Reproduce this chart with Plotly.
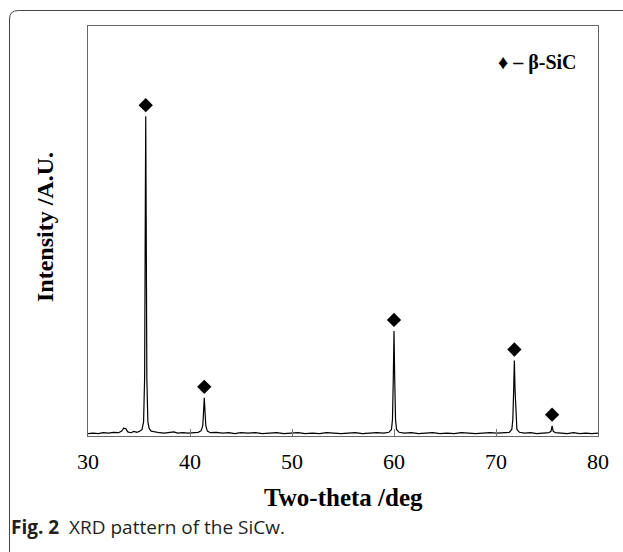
import plotly.graph_objects as go

# XRD trace of the SiC whiskers: 2-theta (deg) vs. intensity (arbitrary units)
two_theta = [
    30.0, 30.5, 31.0, 31.5, 32.0, 32.5, 33.0, 33.3, 33.5, 33.7, 33.9, 34.2, 34.5, 34.8,
    35.1, 35.3, 35.45, 35.55, 35.62, 35.66, 35.7, 35.77, 35.87, 36.0, 36.2, 36.5,
    37.0, 37.5, 38.0, 38.4, 38.8, 39.3, 39.8, 40.3, 40.8, 41.1, 41.25, 41.33, 41.4,
    41.47, 41.55, 41.7, 42.0, 42.6, 43.2, 43.8, 44.4, 45.0, 45.7, 46.4, 47.1, 47.8,
    48.5, 49.2, 49.9, 50.6, 51.3, 52.0, 52.7, 53.4, 54.1, 54.8, 55.5, 56.2, 56.9,
    57.6, 58.3, 59.0, 59.5, 59.75, 59.85, 59.93, 60.0, 60.07, 60.15, 60.25, 60.5,
    61.0, 61.7, 62.4, 63.1, 63.8, 64.5, 65.2, 65.9, 66.6, 67.3, 68.0, 68.7, 69.4,
    70.1, 70.8, 71.3, 71.55, 71.65, 71.73, 71.8, 71.87, 71.95, 72.05, 72.3, 72.8,
    73.4, 74.0, 74.6, 75.2, 75.4, 75.5, 75.6, 75.8, 76.4, 77.0, 77.6, 78.2, 78.8,
    79.4, 80.0,
]
intensity = [
    0.6, 0.7, 0.6, 0.8, 0.7, 0.9, 0.8, 1.2, 1.9, 1.8, 1.0, 0.8, 1.1, 0.9,
    1.2, 1.6, 3.5, 14.0, 55.0, 78.0, 55.0, 14.0, 3.5, 1.8, 1.2, 1.0,
    0.8, 0.7, 0.8, 1.0, 0.7, 0.8, 0.7, 0.8, 0.9, 1.3, 2.5, 6.0, 9.3,
    6.0, 2.5, 1.2, 0.8, 0.9, 0.7, 0.8, 0.6, 0.8, 0.7, 0.8, 0.6, 0.7,
    0.8, 0.6, 0.7, 0.8, 0.6, 0.7, 0.6, 0.8, 0.7, 0.6, 0.7, 0.8, 0.6,
    0.7, 0.8, 0.7, 0.9, 1.6, 4.0, 14.0, 25.6, 14.0, 4.0, 1.6, 0.9,
    0.7, 0.8, 0.6, 0.7, 0.8, 0.6, 0.7, 0.6, 0.8, 0.7, 0.6, 0.7, 0.8,
    0.7, 0.8, 0.9, 1.6, 4.0, 11.0, 18.4, 11.0, 4.0, 1.6, 0.9, 0.7,
    0.8, 0.6, 0.7, 0.8, 1.2, 2.5, 1.2, 0.8, 0.7, 0.6, 0.8, 0.6, 0.7,
    0.6, 0.7,
]

# beta-SiC reflections that are flagged with a diamond
peak_theta = [35.66, 41.4, 60.0, 71.8, 75.5]
peak_height = [78.0, 9.3, 25.6, 18.4, 2.5]

x_ticks = [30, 40, 50, 60, 70, 80]
x_title = "Two-theta /deg"
y_title = "Intensity /A.U."
phase_label = "♦ – β-SiC"
caption_bold = "Fig. 2"
caption_text = "XRD pattern of the SiCw."

W, H = 623, 552
ML, MR, MT, MB = 88, 25, 26, 116
PW, PH = W - ML - MR, H - MT - MB


def px(x):
    return (x - ML) / PW


def py(y):
    return (MT + PH - y) / PH


MARK_GAP = 2.7  # diamond sits just above each peak apex

fig = go.Figure()
fig.add_trace(go.Scatter(
    x=two_theta, y=intensity, mode="lines",
    line=dict(color="black", width=1.2), hoverinfo="skip", showlegend=False,
))
fig.add_trace(go.Scatter(
    x=peak_theta, y=[h + MARK_GAP for h in peak_height], mode="markers",
    marker=dict(symbol="diamond", size=11, color="black"),
    showlegend=False,
))

serif = "Liberation Serif, Times New Roman, serif"
sans = "Open Sans, Noto Sans, sans-serif"

fig.update_layout(
    width=W, height=H,
    margin=dict(l=ML, r=MR, t=MT, b=MB),
    paper_bgcolor="white", plot_bgcolor="white",
    xaxis=dict(
        range=[30, 80], tickvals=x_ticks, ticks="inside", ticklen=7,
        tickcolor="#777", tickwidth=1, showgrid=False, zeroline=False,
        showline=True, linecolor="#666", linewidth=1, mirror=True,
        tickfont=dict(family=serif, size=22, color="black"),
        ticklabelstandoff=6,
    ),
    yaxis=dict(
        range=[0, 100], showticklabels=False, ticks="", showgrid=False,
        zeroline=False, showline=True, linecolor="#666", linewidth=1, mirror=True,
    ),
    annotations=[
        dict(text=f"<b>{x_title}</b>", x=0.5, y=py(498), xref="paper", yref="paper",
             xanchor="center", yanchor="middle", showarrow=False,
             font=dict(family=serif, size=25, color="black")),
        dict(text=f"<b>{y_title}</b>", x=px(45), y=py(227), xref="paper", yref="paper",
             xanchor="center", yanchor="middle", textangle=-90, showarrow=False,
             font=dict(family=serif, size=24, color="black")),
        dict(text=f"<b>{phase_label}</b>", x=px(579), y=py(63), xref="paper", yref="paper",
             xanchor="right", yanchor="middle", showarrow=False,
             font=dict(family=serif, size=20, color="black")),
        dict(text=f"<b>{caption_bold}</b>  {caption_text}", x=px(9), y=py(527),
             xref="paper", yref="paper", xanchor="left", yanchor="middle", showarrow=False,
             font=dict(family=sans, size=19, color="#231f20")),
    ],
    shapes=[
        # rounded outer frame around the figure panel
        dict(type="path", xref="paper", yref="paper",
             path=(f"M {px(9.5)},{py(560)} L {px(9.5)},{py(19)} "
                   f"Q {px(9.5)},{py(10.5)} {px(18.5)},{py(10.5)} L {px(640)},{py(10.5)}"),
             line=dict(color="#444", width=1)),
    ],
)

fig.write_html("out.html")
